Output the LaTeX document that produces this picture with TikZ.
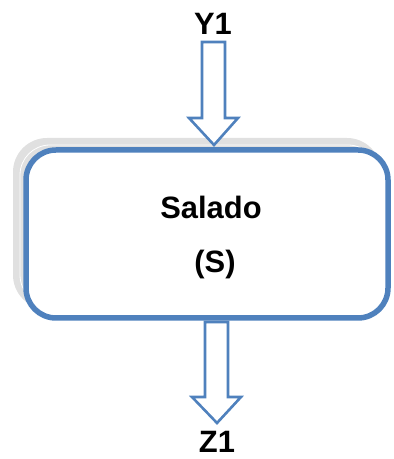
\documentclass[tikz,border=0pt]{standalone}
\usepackage{fontspec}
\setmainfont{Liberation Sans}
\definecolor{offblue}{RGB}{79,129,189}
\definecolor{shadowgray}{RGB}{224,224,224}
\tikzset{
  lbl/.style={font=\fontsize{31}{36}\selectfont\bfseries, inner sep=0pt},
  blockarrow/.style={draw=offblue, line width=2.6bp, fill=white, line join=miter},
}
\begin{document}
\begin{tikzpicture}[x=1bp,y=1bp]
\useasboundingbox (0,0) rectangle (393,459);
% shadow
\fill[shadowgray, rounded corners=34bp] (13,321) rectangle (381,150);
\draw[white, line width=0.8bp, rounded corners=30bp] (20,314) rectangle (378,154);
% main box
\draw[offblue, line width=5.5bp, fill=white, rounded corners=30bp] (26,309) rectangle (388,141);
\node[lbl] (salado) at (211,252) {Salado};
\node[lbl] (s) at (215,194) {(S)};
% top arrow
\node[lbl] (y1) at (213,435) {Y1};
\draw[blockarrow] (202,417) -- (225,417) -- (225,341) -- (238,341) -- (214,314) -- (189,341) -- (202,341) -- cycle;
% bottom arrow
\draw[blockarrow] (205,137) -- (228,137) -- (228,62) -- (241,62) -- (217,36) -- (192,62) -- (205,62) -- cycle;
\node[lbl] (z1) at (217,17) {Z1};
\end{tikzpicture}
\end{document}
